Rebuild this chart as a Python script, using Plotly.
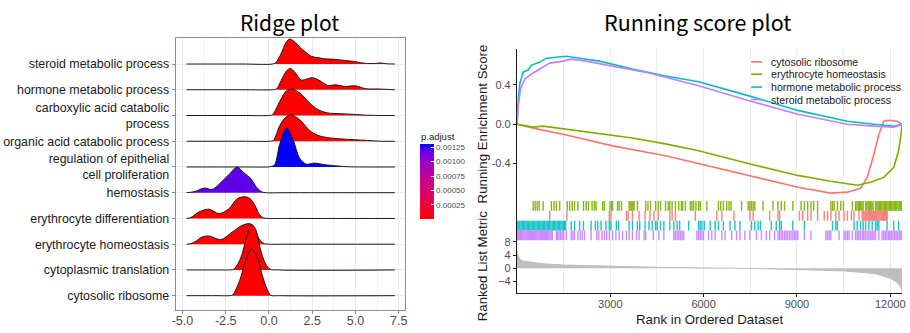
import plotly.graph_objects as go

W, H = 910, 333

# ---------------- Ridge plot data ----------------
ridge_terms = ["cytosolic ribosome", "cytoplasmic translation", "erythrocyte homeostasis",
               "erythrocyte differentiation", "hemostasis",
               "regulation of epithelial<br>cell proliferation",
               "organic acid catabolic process", "carboxylic acid catabolic<br>process",
               "hormone metabolic process", "steroid metabolic process"]
ridge_padj = [0.000001, 0.000002, 0.000004, 0.000005, 0.00118, 0.0013,
              0.000006, 0.000007, 0.000008, 0.000009]

x_cytosolic = [-4.76, -3.0, -2.3, -2.1, -1.7, -1.36, -1.01, -0.69, -0.4, -0.11, 0.1, 0.6, 7.28]
h_cytosolic = [0, 0, 0, 0.03, 0.57, 1.34, 1.81, 1.53, 0.83, 0.26, 0.02, 0, 0]

x_cytoplasmic = [-4.76, -3.0, -2.4, -2.03, -1.64, -1.26, -1.01, -0.78, -0.5, -0.21, 0.07, 0.6, 7.28]
h_cytoplasmic = [0, 0, 0, 0.03, 0.45, 1.34, 1.77, 1.6, 0.83, 0.26, 0.03, 0, 0]

x_ery_homeo = [-4.76, -4.5, -4.2, -3.94, -3.46, -2.79, -2.12, -1.55, -1.07, -0.78, -0.5, -0.25, 0.0, 1.0, 7.28]
h_ery_homeo = [0, 0.02, 0.12, 0.26, 0.32, 0.18, 0.47, 0.73, 0.79, 0.47, 0.15, 0.02, 0, 0, 0]

x_ery_diff = [-4.76, -4.5, -4.03, -3.46, -2.88, -2.31, -1.83, -1.4, -1.1, -0.8, -0.55, -0.3, 0.0, 1.0, 7.28]
h_ery_diff = [0, 0.04, 0.26, 0.36, 0.19, 0.38, 0.77, 0.84, 0.78, 0.5, 0.15, 0.02, 0, 0, 0]

x_hemostasis = [-4.76, -4.5, -4.22, -3.75, -3.27, -2.7, -2.22, -1.83, -1.45, -1.07, -0.69, -0.4, -0.15, 1.0, 7.28]
h_hemostasis = [0, 0.02, 0.06, 0.18, 0.13, 0.45, 0.77, 1.0, 0.77, 0.57, 0.19, 0.03, 0, 0, 0]

x_regulation = [-4.76, -1.5, -0.1, 0.15, 0.34, 0.63, 1.01, 1.4, 1.78, 2.16, 2.64, 3.2, 3.8, 4.5, 5.5, 7.28]
h_regulation = [0, 0, 0, 0.02, 0.1, 0.9, 1.52, 1.05, 0.34, 0.11, 0.15, 0.09, 0.05, 0.01, 0, 0]

x_organic = [-4.76, -1.5, 0.0, 0.25, 0.63, 0.95, 1.24, 1.55, 1.87, 2.35, 2.83, 3.4, 4.16, 4.93, 5.7, 6.5, 7.28]
h_organic = [0, 0, 0, 0.03, 0.61, 0.92, 1.03, 0.95, 0.78, 0.42, 0.23, 0.14, 0.09, 0.06, 0.03, 0, 0]

x_carboxylic = [-4.76, -1.5, -0.05, 0.2, 0.63, 1.0, 1.34, 1.6, 1.87, 2.35, 2.83, 3.4, 4.16, 4.93, 5.7, 6.5, 7.28]
h_carboxylic = [0, 0, 0, 0.03, 0.55, 0.95, 1.03, 0.95, 0.83, 0.49, 0.23, 0.1, 0.07, 0.04, 0.01, 0, 0]

x_hormone = [-4.76, -1.5, 0.2, 0.44, 0.7, 1.0, 1.24, 1.5, 1.87, 2.2, 2.5, 2.75, 3.02, 3.4, 3.88, 4.35, 5.03, 5.6, 6.3, 7.28]
h_hormone = [0, 0, 0, 0.03, 0.35, 0.72, 0.83, 0.68, 0.38, 0.42, 0.47, 0.42, 0.32, 0.17, 0.19, 0.13, 0.15, 0.04, 0.03, 0]

x_steroid = [-4.76, -1.5, 0.2, 0.4, 0.7, 1.0, 1.2, 1.45, 1.87, 2.2, 2.45, 2.9, 3.21, 3.6, 3.98, 4.5, 4.93, 5.3, 5.7, 6.1, 6.46, 6.8, 7.28]
h_steroid = [0, 0, 0, 0.05, 0.4, 0.85, 0.97, 0.88, 0.6, 0.42, 0.3, 0.24, 0.2, 0.19, 0.17, 0.13, 0.1, 0.05, 0.02, 0.02, 0.04, 0.01, 0]

ridge_x = [x_cytosolic, x_cytoplasmic, x_ery_homeo, x_ery_diff, x_hemostasis,
           x_regulation, x_organic, x_carboxylic, x_hormone, x_steroid]
ridge_h = [h_cytosolic, h_cytoplasmic, h_ery_homeo, h_ery_diff, h_hemostasis,
           h_regulation, h_organic, h_carboxylic, h_hormone, h_steroid]

ridge_xticks = [-5.0, -2.5, 0.0, 2.5, 5.0, 7.5]
ridge_xticktext = ["-5.0", "-2.5", "0.0", "2.5", "5.0", "7.5"]
padj_ticks = [0.00025, 0.0005, 0.00075, 0.001, 0.00125]
padj_ticktext = ["0.00025", "0.00050", "0.00075", "0.00100", "0.00125"]

# ---------------- Running score data ----------------
set_names = ["cytosolic ribosome", "erythrocyte homeostasis",
             "hormone metabolic process", "steroid metabolic process"]
set_colors = ["#F8766D", "#7CAE00", "#00BFC4", "#C77CFF"]

cyto_rank = [0, 520, 1585, 3070, 4775, 5840, 7430, 9030, 10090, 10620, 11050, 11260, 11470, 11630, 11790, 11950, 12220, 12380]
cyto_es = [0, -0.04, -0.11, -0.22, -0.32, -0.40, -0.52, -0.64, -0.70, -0.69, -0.65, -0.54, -0.31, -0.11, 0.03, 0.04, 0.03, 0]

ery_rank = [0, 520, 840, 1585, 2650, 3710, 4775, 5840, 7430, 9030, 10090, 10940, 11370, 11790, 12110, 12270, 12345, 12380]
ery_es = [0, -0.03, -0.02, -0.05, -0.09, -0.14, -0.20, -0.27, -0.40, -0.52, -0.58, -0.62, -0.59, -0.54, -0.44, -0.27, -0.11, 0]

hormone_rank = [0, 42, 96, 200, 360, 470, 734, 947, 1265, 1585, 2010, 2650, 3710, 4775, 5840, 7430, 9030, 10620, 11470, 12110, 12380]
hormone_es = [0, 0.26, 0.42, 0.53, 0.55, 0.60, 0.63, 0.67, 0.68, 0.69, 0.67, 0.64, 0.56, 0.49, 0.43, 0.29, 0.14, 0.03, 0.0, -0.02, 0]

steroid_rank = [0, 42, 117, 255, 520, 734, 1050, 1480, 1745, 2220, 3180, 4240, 5840, 7430, 9030, 10620, 11470, 12110, 12320, 12380]
steroid_es = [0, 0.19, 0.36, 0.46, 0.52, 0.56, 0.62, 0.64, 0.66, 0.64, 0.58, 0.52, 0.39, 0.24, 0.10, 0.0, -0.02, -0.03, -0.01, 0]

es_ranks = [cyto_rank, ery_rank, hormone_rank, steroid_rank]
es_values = [cyto_es, ery_es, hormone_es, steroid_es]

cyto_hits = [1053, 1605, 2967, 3020, 3519, 3570, 3711, 3924, 4115, 4275, 4402, 4541, 4913, 4987, 5094,
             5732, 6423, 6582, 6976, 7486, 7592, 8124, 8390, 8443, 9081, 9187, 9346, 9452, 9665, 9878,
             9985, 10091, 10250, 10356, 10517, 10623, 10751, 10836, 10996,
             11100, 11130, 11160, 11190, 11220, 11250, 11280, 11310, 11340, 11370, 11400, 11430, 11460,
             11490, 11520, 11550, 11580, 11610, 11640, 11670, 11700, 11730, 11760, 11790, 11820, 11850,
             11880, 11900]

ery_hits = [521, 585, 649, 713, 840, 1106, 1191, 1265, 1372, 1616, 1691, 1776, 1850, 1957, 2137, 2223,
            2297, 2414, 2488, 2541, 2754, 2807, 2988, 3041, 3073, 3233, 3286, 3360, 3605, 3637, 3669,
            3701, 3733, 3764, 3871, 4136, 4211, 4296, 4455, 4541, 4615, 4775, 4860, 4913, 4987, 5094,
            5200, 5285, 5327, 5412, 5572, 5625, 5678, 5753, 5838, 5891, 6104, 6476, 6550, 6635, 6742,
            6816, 6880, 7220, 7433, 7486, 7539, 7592, 7645, 7911, 8230, 8390, 8496, 8602, 8868, 9134,
            9240, 9346, 9452, 9538, 9665, 10091, 10144, 10197, 10303, 10409, 10495, 10782,
            10888, 10930, 10975, 11010, 11050, 11090, 11130, 11210, 11250, 11290, 11330, 11370, 11410,
            11450, 11530, 11570, 11610, 11650, 11690, 11730, 11770, 11810, 11850, 11890, 11930, 11970,
            12010, 12050, 12090, 12130, 12170, 12210, 12250, 12290, 12330, 12370]

hormone_hits = [10, 50, 90, 130, 170, 210, 250, 290, 330, 370, 410, 450, 490, 530, 570, 610, 650, 690,
                730, 770, 810, 850, 890, 930, 970, 1010, 1050, 1090, 1130, 1170, 1210, 1250, 1290,
                1330, 1370, 1410, 1450, 1490, 1530, 1563,
                1744, 1850, 2010, 2137, 2382, 2520, 2595, 2701, 2860, 2967, 3020, 3193, 3265, 3605,
                3711, 3870, 3945, 4115, 4243, 4349, 4455, 4508, 4615, 4721, 4913, 5040, 5146, 5230,
                5519, 5838, 5890, 5944, 6020, 6211, 6370, 6476, 6635, 6848, 7008, 7167, 7539, 7646,
                7752, 7830, 8177, 8336, 8443, 8496, 8868, 9240, 10144, 10250, 10303, 10836, 10940,
                11046, 11130, 11209, 11315, 11420, 11528, 11580, 11634, 11899, 12111, 12270]

steroid_hits = [10, 45, 80, 115, 150, 185, 220, 255, 290, 325, 360, 395, 430, 465, 500, 535, 570, 605,
                640, 675, 710, 745, 780, 815, 850, 885, 920, 955, 990, 1025, 1060, 1100, 1138,
                1265, 1300, 1350, 1400, 1450, 1500, 1585, 1744, 1800, 1850, 1955, 2030, 2095, 2169,
                2382, 2563, 2627, 2733, 2808, 2883, 2967, 3073, 3180, 3286, 3392, 3520, 3605, 3711,
                3840, 3925, 4085, 4137, 4381, 4561, 4721, 5040, 5094, 5146, 5200, 5253, 5306, 5360,
                5785, 5840, 5890, 5944, 5997, 6158, 6264, 6370, 6582, 6689, 6901, 7060, 7167, 7326,
                7486, 7699, 7858, 8017, 8124, 8283, 8390, 8440, 8490, 8540, 8600, 8650, 8700, 8760,
                8810, 8870, 8920, 8970, 9028, 9240, 9452, 9932, 9985, 10040, 10091, 10356, 10517,
                10570, 10625, 10677, 10783, 10890, 10940, 10990, 11040, 11100, 11150, 11200, 11260,
                11315, 11370, 11420, 11475, 11528, 11634, 11740, 11793, 11840, 11890, 11940, 11990,
                12040, 12090, 12140, 12190, 12240, 12290, 12340, 12377]

hit_sets = [ery_hits, cyto_hits, hormone_hits, steroid_hits]   # top to bottom rows
hit_colors = ["#7CAE00", "#F8766D", "#00BFC4", "#C77CFF"]
hit_rows = [3, 2, 1, 0]

metric_rank = [0, 30, 100, 200, 420, 800, 1470, 2200, 2970, 4560, 6060, 7430, 9030, 10530, 11490, 12000, 12230, 12330, 12380]
metric_value = [5.2, 4.0, 2.7, 2.2, 1.9, 1.4, 1.0, 0.8, 0.6, 0.3, 0.1, 0.0, -0.4, -0.8, -1.6, -3.0, -4.3, -5.5, -6.8]

n_genes = 12380
rank_ticks = [3000, 6000, 9000, 12000]
rank_ticktext = ["3000", "6000", "9000", "12000"]
es_ticks = [-0.4, 0.0, 0.4]
es_ticktext = ["-0.4", "0.0", "0.4"]
metric_ticks = [-4, 0, 4, 8]


# ---------------- helpers ----------------
def px(x):
    return x / W


def py(y):
    return 1 - y / H


stops = [(0.0, (255, 0, 0)), (0.25, (232, 0, 79)), (0.5, (202, 0, 137)),
         (0.75, (154, 0, 195)), (0.9, (104, 0, 230)), (1.0, (0, 0, 255))]
colorscale = [[s, "rgb(%d,%d,%d)" % c] for s, c in stops]
cmin, cmax = min(ridge_padj), max(ridge_padj)


def pcolor(v):
    t = (v - cmin) / (cmax - cmin)
    for (s0, c0), (s1, c1) in zip(stops[:-1], stops[1:]):
        if s0 <= t <= s1:
            f = (t - s0) / (s1 - s0)
            return "rgb(%d,%d,%d)" % tuple(round(a + (b - a) * f) for a, b in zip(c0, c1))
    return "rgb(%d,%d,%d)" % stops[-1][1]


FONT = "Liberation Sans, Arial, sans-serif"
TFONT = "Noto Sans CJK JP, Noto Sans, sans-serif"

fig = go.Figure()

# ridges: top rows first so lower rows overlap them
for i in reversed(range(len(ridge_terms))):
    xs = ridge_x[i]
    ys = [i + h for h in ridge_h[i]]
    fig.add_trace(go.Scatter(
        x=xs, y=ys, mode="lines", fill="toself", fillcolor=pcolor(ridge_padj[i]),
        line=dict(color="#1a1a1a", width=1, shape="spline", smoothing=0.9),
        showlegend=False, hoverinfo="skip", xaxis="x", yaxis="y"))

# colorbar carrier
fig.add_trace(go.Scatter(
    x=[0, 0], y=[-5, -5], mode="markers", showlegend=False, hoverinfo="skip",
    marker=dict(size=1, opacity=0, color=[cmin, cmax], colorscale=colorscale,
                cmin=cmin, cmax=cmax, showscale=True,
                colorbar=dict(x=px(419), xanchor="left", y=py(179.5), yanchor="middle",
                              thickness=14, thicknessmode="pixels", len=75, lenmode="pixels",
                              xpad=0, ypad=0, outlinewidth=0,
                              tickvals=padj_ticks, ticktext=padj_ticktext,
                              ticks="inside", ticklen=3, tickcolor="white",
                              tickfont=dict(size=8, color="#4d4d4d", family=FONT))),
    xaxis="x", yaxis="y"))

# running ES curves
for r, v, c, n in zip(es_ranks, es_values, set_colors, set_names):
    fig.add_trace(go.Scatter(x=r, y=v, mode="lines", line=dict(color=c, width=1.6),
                             name=n, showlegend=False, hoverinfo="skip",
                             xaxis="x2", yaxis="y2"))

# rug of hits
for hits, c, row in zip(hit_sets, hit_colors, hit_rows):
    xs, ys = [], []
    for h in hits:
        xs += [h, h, None]
        ys += [row, row + 1, None]
    fig.add_trace(go.Scatter(x=xs, y=ys, mode="lines", line=dict(color=c, width=1.4),
                             opacity=0.9, showlegend=False, hoverinfo="skip",
                             xaxis="x3", yaxis="y3"))

# ranked list metric
fig.add_trace(go.Scatter(x=metric_rank, y=metric_value, mode="lines", fill="tozeroy",
                         fillcolor="#BEBEBE", line=dict(color="#BEBEBE", width=1),
                         showlegend=False, hoverinfo="skip", xaxis="x4", yaxis="y4"))

ridge_dom_x = [px(173), px(404)]
es_dom_x = [px(517), px(905)]
grid = "#EBEBEB"

layout = dict(
    width=W, height=H, margin=dict(l=0, r=0, t=0, b=0),
    paper_bgcolor="white", plot_bgcolor="white", showlegend=False,
    font=dict(family=FONT, color="#1a1a1a"),
    xaxis=dict(domain=ridge_dom_x, range=[-5.39, 7.86], anchor="y",
               tickvals=ridge_xticks, ticktext=ridge_xticktext,
               showline=True, mirror=True, linecolor="#8c8c8c", linewidth=1,
               showgrid=True, gridcolor=grid, gridwidth=1, zeroline=False,
               minor=dict(tickvals=[-3.75, -1.25, 1.25, 3.75, 6.25], showgrid=True,
                          gridcolor="#F2F2F2", gridwidth=0.6, ticks=""),
               ticks="outside", ticklen=3, tickcolor="#8c8c8c", ticklabelstandoff=-4,
               tickfont=dict(size=12.5, color="#4d4d4d")),
    yaxis=dict(domain=[py(310), py(33)], range=[-0.57, 10.03], anchor="x",
               tickvals=list(range(len(ridge_terms))), ticktext=ridge_terms,
               showline=True, mirror=True, linecolor="#8c8c8c", linewidth=1,
               showgrid=True, gridcolor=grid, zeroline=False,
               ticks="outside", ticklen=3, tickcolor="#8c8c8c",
               tickfont=dict(size=12.4, color="#1a1a1a")),
    xaxis2=dict(domain=es_dom_x, range=[0, n_genes], anchor="y2",
                showticklabels=False, ticks="", showline=False, zeroline=False,
                showgrid=True, gridcolor=grid, tick0=0, dtick=1500),
    yaxis2=dict(domain=[py(199), py(45)], range=[-0.78, 0.76], anchor="x2",
                tickvals=es_ticks, ticktext=es_ticktext, showgrid=False, zeroline=False,
                showline=True, linecolor="#1a1a1a", linewidth=1.3,
                ticks="outside", ticklen=3, tickcolor="#1a1a1a",
                tickfont=dict(size=11, color="#4d4d4d")),
    xaxis3=dict(domain=es_dom_x, range=[0, n_genes], anchor="y3",
                showticklabels=False, ticks="", showline=False, zeroline=False,
                showgrid=True, gridcolor=grid, tick0=0, dtick=1500),
    yaxis3=dict(domain=[py(239), py(199)], range=[0, 4], anchor="x3",
                showticklabels=False, ticks="", showgrid=False, zeroline=False,
                showline=True, linecolor="#1a1a1a", linewidth=1.3),
    xaxis4=dict(domain=es_dom_x, range=[0, n_genes], anchor="y4",
                tickvals=rank_ticks, ticktext=rank_ticktext,
                showgrid=True, gridcolor=grid, zeroline=False,
                minor=dict(tickvals=[1500, 4500, 7500, 10500], showgrid=True,
                           gridcolor=grid, ticks=""),
                showline=True, linecolor="#1a1a1a", linewidth=1.3,
                ticks="outside", ticklen=3, tickcolor="#1a1a1a", ticklabelstandoff=-2,
                tickfont=dict(size=11, color="#4d4d4d")),
    yaxis4=dict(domain=[py(292), py(239)], range=[-7.37, 8.45], anchor="x4",
                tickvals=metric_ticks, showgrid=False, zeroline=False,
                showline=True, linecolor="#1a1a1a", linewidth=1.3,
                ticks="outside", ticklen=3, tickcolor="#1a1a1a",
                tickfont=dict(size=11, color="#4d4d4d")),
)
fig.update_layout(**layout)

ann = [
    dict(text="Ridge plot", x=px(288), y=py(17), font=dict(size=21, family=TFONT, color="black")),
    dict(text="Running score plot", x=px(699), y=py(17), font=dict(size=21.5, family=TFONT, color="black")),
    dict(text="p.adjust", x=px(418), y=py(133), xanchor="left", font=dict(size=9.5, color="#1a1a1a")),
    dict(text="Running Enrichment Score", x=px(482), y=py(121), textangle=-90,
         font=dict(size=13.3, color="#1a1a1a")),
    dict(text="Ranked List Metric", x=px(482), y=py(265), textangle=-90,
         font=dict(size=13.3, color="#1a1a1a")),
    dict(text="Rank in Ordered Dataset", x=px(711), y=py(319), font=dict(size=13.3, color="#1a1a1a")),
]
legend_rows = [57.7, 70.3, 83.3, 96]
shapes = []
for n, c, yy in zip(set_names, set_colors, legend_rows):
    ann.append(dict(text=n, x=px(771), y=py(yy), xanchor="left", font=dict(size=10.6, color="#1a1a1a")))
    shapes.append(dict(type="line", xref="paper", yref="paper", x0=px(753), x1=px(764),
                       y0=py(yy), y1=py(yy), line=dict(color=c, width=1.6)))
for a in ann:
    a.setdefault("xref", "paper")
    a.setdefault("yref", "paper")
    a.setdefault("showarrow", False)
    a.setdefault("xanchor", "center")
    a.setdefault("yanchor", "middle")
fig.update_layout(annotations=ann, shapes=shapes)

fig.write_html("out.html")
